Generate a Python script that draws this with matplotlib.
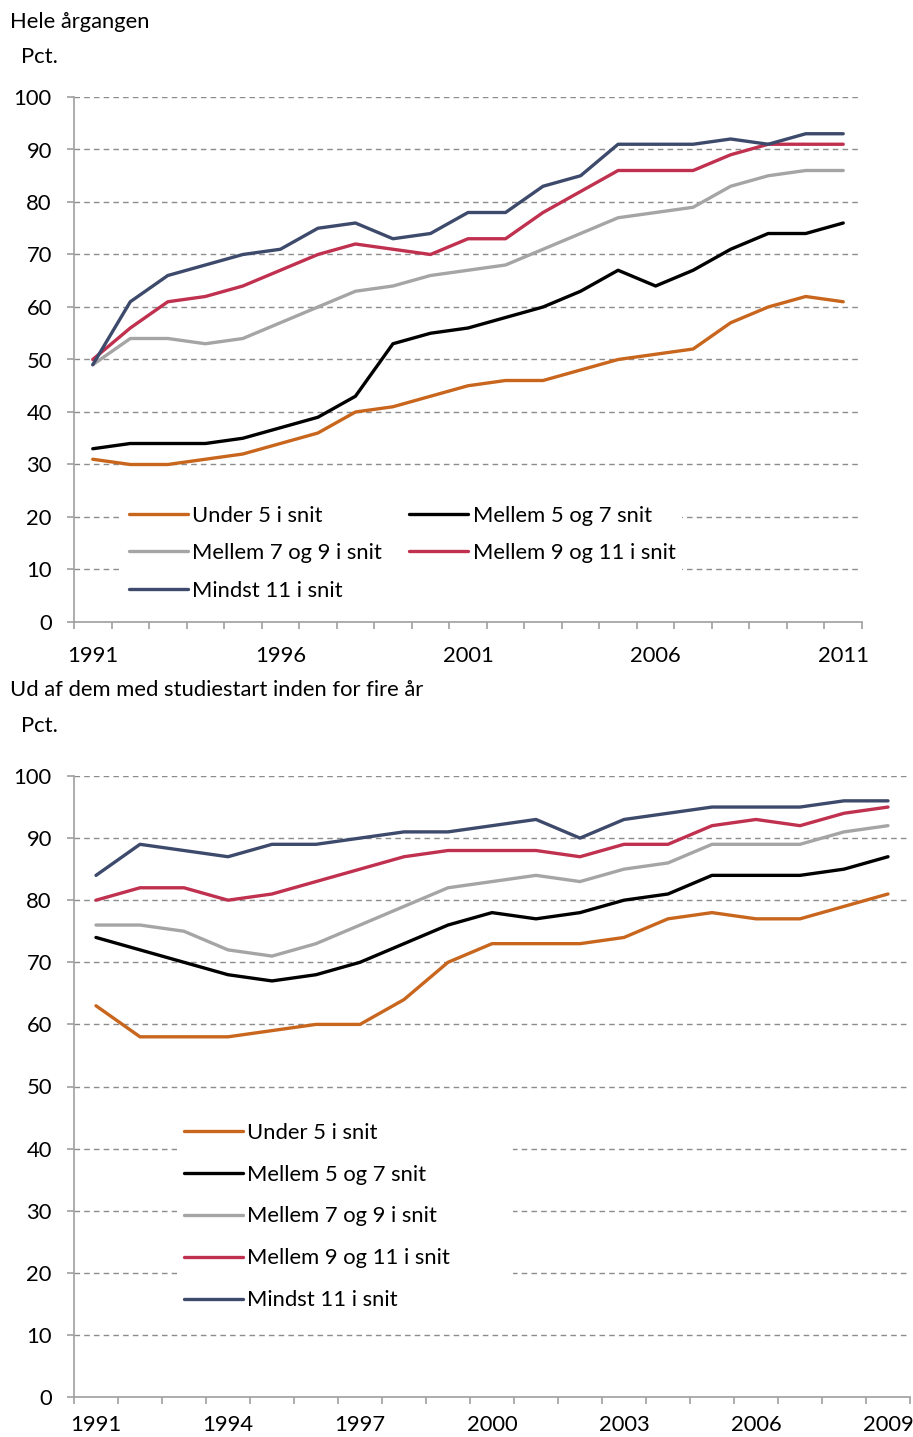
import matplotlib
matplotlib.use("Agg")
import matplotlib.pyplot as plt
from matplotlib.ticker import FixedLocator, NullFormatter

plt.rcParams['font.family'] = ['Lato', 'DejaVu Sans']

# ---------- Data ----------
years_top = list(range(1991, 2012))
top_under5 = [31, 30, 30, 31, 32, 34, 36, 40, 41, 43, 45, 46, 46, 48, 50, 51, 52, 57, 60, 62, 61]
top_5_7 = [33, 34, 34, 34, 35, 37, 39, 43, 53, 55, 56, 58, 60, 63, 67, 64, 67, 71, 74, 74, 76]
top_7_9 = [49, 54, 54, 53, 54, 57, 60, 63, 64, 66, 67, 68, 71, 74, 77, 78, 79, 83, 85, 86, 86]
top_9_11 = [50, 56, 61, 62, 64, 67, 70, 72, 71, 70, 73, 73, 78, 82, 86, 86, 86, 89, 91, 91, 91]
top_11 = [49, 61, 66, 68, 70, 71, 75, 76, 73, 74, 78, 78, 83, 85, 91, 91, 91, 92, 91, 93, 93]

years_bot = list(range(1991, 2010))
bot_under5 = [63, 58, 58, 58, 59, 60, 60, 64, 70, 73, 73, 73, 74, 77, 78, 77, 77, 79, 81]
bot_5_7 = [74, 72, 70, 68, 67, 68, 70, 73, 76, 78, 77, 78, 80, 81, 84, 84, 84, 85, 87]
bot_7_9 = [76, 76, 75, 72, 71, 73, 76, 79, 82, 83, 84, 83, 85, 86, 89, 89, 89, 91, 92]
bot_9_11 = [80, 82, 82, 80, 81, 83, 85, 87, 88, 88, 88, 87, 89, 89, 92, 93, 92, 94, 95]
bot_11 = [84, 89, 88, 87, 89, 89, 90, 91, 91, 92, 93, 90, 93, 94, 95, 95, 95, 96, 96]

labels = ["Under 5 i snit", "Mellem 5 og 7 snit", "Mellem 7 og 9 i snit",
          "Mellem 9 og 11 i snit", "Mindst 11 i snit"]
colors = ["#C8661E", "#000000", "#A5A5A5", "#C0304F", "#3D4A6B"]

title_top = "Hele årgangen"
title_bot = "Ud af dem med studiestart inden for fire år"
ylabel = "Pct."
yticks = list(range(0, 101, 10))

FS = 15.8
W, H = 913, 1437
fig = plt.figure(figsize=(W / 100, H / 100), dpi=100)


def px_axes(left, right, top, bottom):
    return fig.add_axes([left / W, 1 - bottom / H, (right - left) / W, (bottom - top) / H])


def style_axes(ax, years, step, xpad):
    n = len(years)
    ax.set_xlim(-0.5, n - 0.5)
    ax.set_ylim(0, 100)
    ax.set_yticks(yticks)
    ax.yaxis.grid(True, color="#8C8C8C", linestyle=(0, (4, 3)), linewidth=1.0)
    ax.set_axisbelow(True)
    for s in ["top", "right"]:
        ax.spines[s].set_visible(False)
    for s in ["left", "bottom"]:
        ax.spines[s].set_color("#A0A0A0")
        ax.spines[s].set_linewidth(1.2)
    idx = list(range(0, n, step))
    ax.set_xticks(idx)
    ax.set_xticklabels([str(years[i]) for i in idx])
    ax.tick_params(axis="x", which="major", length=0, pad=xpad, labelsize=FS)
    ax.xaxis.set_minor_locator(FixedLocator([i - 0.5 for i in range(n + 1)]))
    ax.xaxis.set_minor_formatter(NullFormatter())
    ax.tick_params(axis="x", which="minor", length=5, color="#A0A0A0", width=1.2, direction="out")
    ax.tick_params(axis="y", length=5, color="#A0A0A0", width=1.2, pad=11, labelsize=FS)


# ---------- Top chart ----------
ax1 = px_axes(74, 862, 97, 622)
series_top = [top_under5, top_5_7, top_7_9, top_9_11, top_11]
lines1 = []
for vals, c, lab in zip(series_top, colors, labels):
    ln, = ax1.plot(range(len(years_top)), vals, color=c, linewidth=2.4, label=lab,
                   solid_joinstyle="round", solid_capstyle="round")
    lines1.append(ln)
style_axes(ax1, years_top, 5, 17)
order = [0, 2, 4, 1, 3]
leg1 = ax1.legend([lines1[i] for i in order], [labels[i] for i in order], ncol=2,
                  loc="upper left", bbox_to_anchor=((122 - 74) / 788, (622 - 499) / 525, 560 / 788, 0.0),
                  mode="expand", frameon=True, fancybox=False, framealpha=1, edgecolor="none",
                  facecolor="white", fontsize=FS, handlelength=2.7, handletextpad=0.2,
                  labelspacing=0.8, borderpad=0.3, borderaxespad=0)

# ---------- Bottom chart ----------
ax2 = px_axes(74, 910, 776, 1397)
series_bot = [bot_under5, bot_5_7, bot_7_9, bot_9_11, bot_11]
for vals, c, lab in zip(series_bot, colors, labels):
    ax2.plot(range(len(years_bot)), vals, color=c, linewidth=2.4, label=lab,
             solid_joinstyle="round", solid_capstyle="round")
style_axes(ax2, years_bot, 3, 13)
leg2 = ax2.legend(ncol=1, loc="upper left",
                  bbox_to_anchor=((177 - 74) / 836, (1397 - 1116) / 621, 336 / 836, 0.0),
                  mode="expand", frameon=True, fancybox=False, framealpha=1, edgecolor="none",
                  facecolor="white", fontsize=FS, handlelength=2.7, handletextpad=0.2,
                  labelspacing=1.0, borderpad=0.3, borderaxespad=0)

# ---------- Titles ----------
fig.text(10 / W, 1 - 22 / H, title_top, fontsize=FS, va="center", ha="left")
fig.text(21 / W, 1 - 57 / H, ylabel, fontsize=FS, va="center", ha="left")
fig.text(10 / W, 1 - 690 / H, title_bot, fontsize=FS, va="center", ha="left")
fig.text(21 / W, 1 - 726 / H, ylabel, fontsize=FS, va="center", ha="left")

fig.savefig("out.png", dpi=100)
